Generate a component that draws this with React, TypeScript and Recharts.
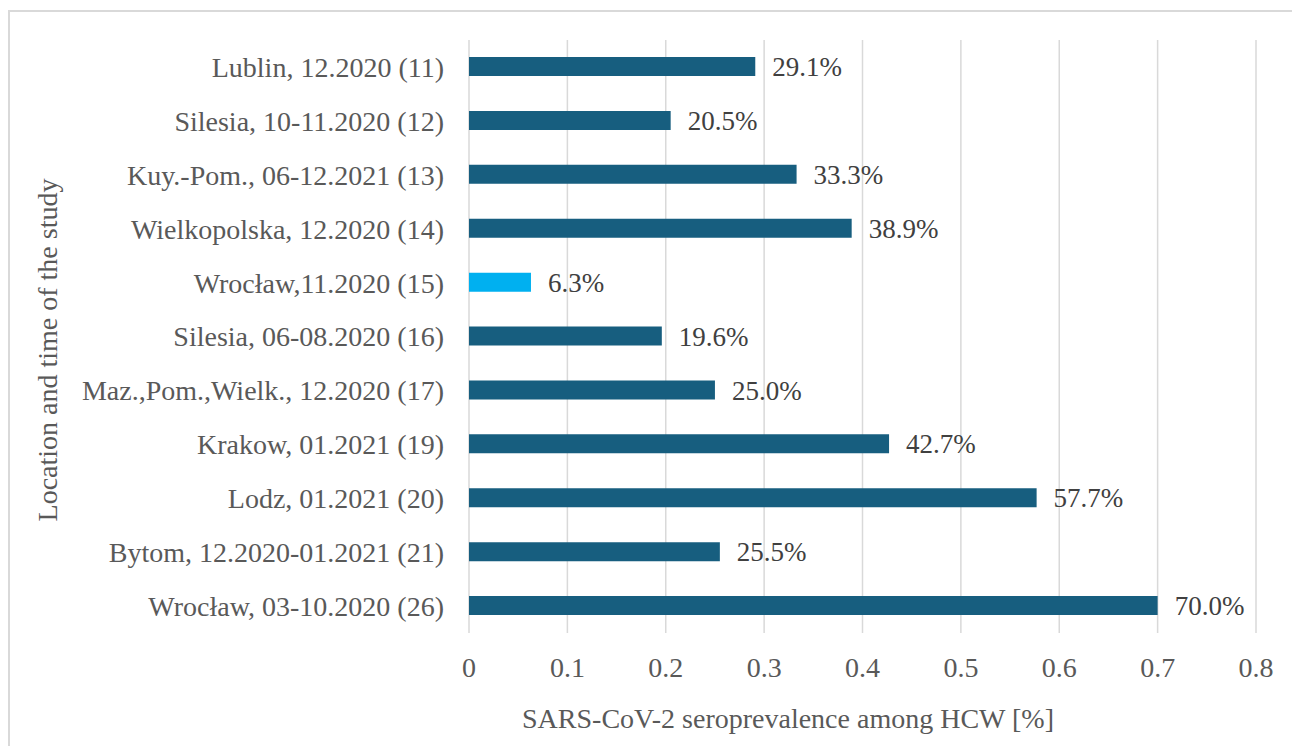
import { BarChart, Bar, XAxis, YAxis, CartesianGrid, LabelList, Cell, Label } from 'recharts';

const studies = [
  'Lublin, 12.2020 (11)',
  'Silesia, 10-11.2020 (12)',
  'Kuy.-Pom., 06-12.2021 (13)',
  'Wielkopolska, 12.2020 (14)',
  'Wrocław,11.2020 (15)',
  'Silesia, 06-08.2020 (16)',
  'Maz.,Pom.,Wielk., 12.2020 (17)',
  'Krakow, 01.2021 (19)',
  'Lodz, 01.2021 (20)',
  'Bytom, 12.2020-01.2021 (21)',
  'Wrocław, 03-10.2020 (26)',
];
const seroprevalence = [0.291, 0.205, 0.333, 0.389, 0.063, 0.196, 0.25, 0.427, 0.577, 0.255, 0.7];
const xTicks = [0, 0.1, 0.2, 0.3, 0.4, 0.5, 0.6, 0.7, 0.8];
const highlighted = 'Wrocław,11.2020 (15)';

const data = studies.map((study, i) => ({ study, value: seroprevalence[i] }));

const FONT = '"Liberation Serif", "Times New Roman", serif';
const TEXT = '#595959';
const FS = 28;

export default function App() {
  return (
    <div
      style={{
        position: 'absolute',
        left: 8,
        top: 10,
        width: 1282,
        height: 734,
        borderLeft: '2px solid #d9d9d9',
        borderTop: '2px solid #d9d9d9',
        background: '#fff',
        fontFamily: FONT,
      }}
    >
      <BarChart
        width={1282}
        height={734}
        data={data}
        layout="vertical"
        margin={{ top: 28, right: 36, bottom: 53, left: 0 }}
        barCategoryGap={0}
      >
        <CartesianGrid horizontal={false} stroke="#d9d9d9" strokeWidth={1.5} />
        <XAxis
          type="number"
          domain={[0, 0.8]}
          ticks={xTicks}
          height={60}
          axisLine={false}
          tickLine={false}
          tickSize={0}
          tickMargin={24}
          tick={{ fill: TEXT, fontSize: FS, fontFamily: FONT }}
        >
          <Label
            content={() => (
              <text x={778} y={716} textAnchor="middle" fill={TEXT} fontSize={28} fontFamily={FONT}>
                SARS-CoV-2 seroprevalence among HCW [%]
              </text>
            )}
          />
        </XAxis>
        <YAxis
          type="category"
          dataKey="study"
          width={459}
          axisLine={false}
          tickLine={false}
          tickSize={0}
          tickMargin={25}
          interval={0}
          tick={{ fill: TEXT, fontSize: FS, fontFamily: FONT }}
        >
          <Label
            content={() => (
              <text
                x={37}
                y={338}
                transform="rotate(-90 37 338)"
                textAnchor="middle"
                dominantBaseline="central"
                fill={TEXT}
                fontSize={FS}
                fontFamily={FONT}
              >
                Location and time of the study
              </text>
            )}
          />
        </YAxis>
        <Bar dataKey="value" barSize={19} isAnimationActive={false}>
          {data.map((d) => (
            <Cell key={d.study} fill={d.study === highlighted ? '#00b0f0' : '#175e7f'} />
          ))}
          <LabelList
            dataKey="value"
            position="right"
            offset={17}
            fill="#404040"
            fontSize={27}
            fontFamily={FONT}
            formatter={(v: any) => `${(Number(v) * 100).toFixed(1)}%`}
          />
        </Bar>
      </BarChart>
    </div>
  );
}
